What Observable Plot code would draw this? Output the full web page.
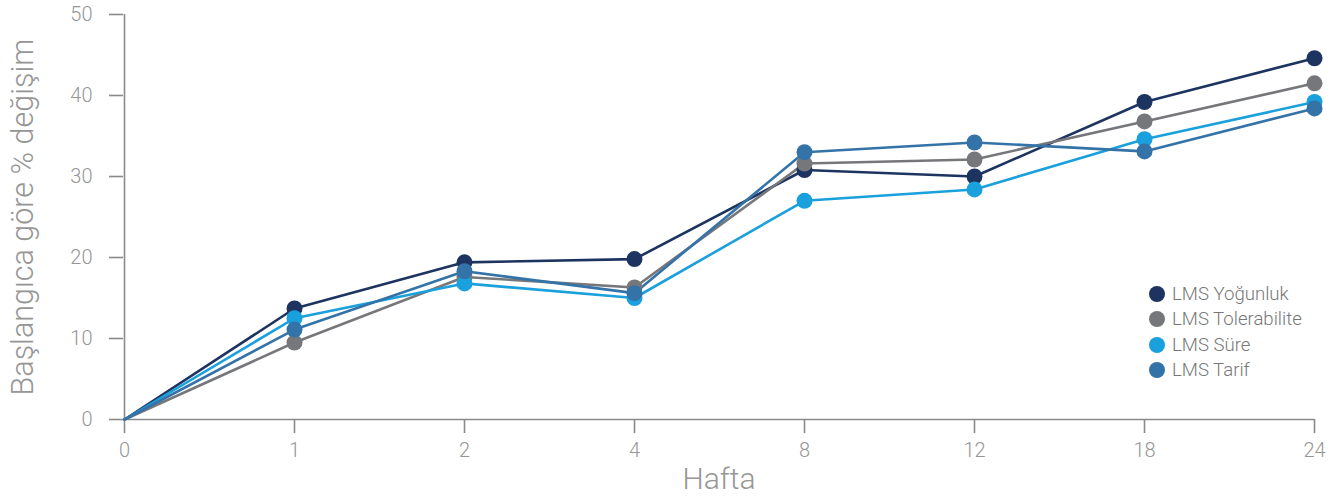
<!DOCTYPE html>
<html>
<head>
<meta charset="utf-8">
<script src="https://cdn.jsdelivr.net/npm/d3@7"></script>
<script src="https://cdn.jsdelivr.net/npm/@observablehq/plot@0.6"></script>
<style>
  html, body { margin: 0; padding: 0; background: #fff; }
  #wrap { position: relative; width: 1341px; height: 498px; font-family: "Roboto", "Liberation Sans", sans-serif; }
  #legend { position: absolute; left: 1149px; top: 281px; font-weight: 300; }
  #legend .item { display: flex; align-items: center; height: 25.5px; font-size: 18.6px; color: #777; }
  #legend .sw { width: 16px; height: 16px; border-radius: 50%; margin-right: 7px; }
</style>
</head>
<body>
<div id="wrap"><div id="legend"></div></div>
<script>
const weeks = ["0", "1", "2", "4", "8", "12", "18", "24"];
const seriesNames = ["LMS Yoğunluk", "LMS Tolerabilite", "LMS Süre", "LMS Tarif"];
const seriesColors = ["#1d3461", "#76777a", "#1aa0dc", "#3473a8"];
const yogunluk     = [0, 13.7, 19.4, 19.8, 30.8, 30.0, 39.2, 44.6];
const tolerabilite = [0,  9.5, 17.6, 16.3, 31.6, 32.1, 36.8, 41.5];
const sure         = [0, 12.5, 16.8, 15.0, 27.0, 28.4, 34.6, 39.2];
const tarif        = [0, 11.1, 18.3, 15.6, 33.0, 34.2, 33.1, 38.4];
const yTicks = [0, 10, 20, 30, 40, 50];
const xTitle = "Hafta";
const yTitle = "Başlangıca göre % değişim";

const allValues = [yogunluk, tolerabilite, sure, tarif];
const data = [];
seriesNames.forEach((s, i) => weeks.forEach((w, j) => data.push({series: s, week: w, value: allValues[i][j]})));

const axisColor = "#8a8a8a";
const textColor = "#969696";

const marks = [
  Plot.ruleY([0], {x1: () => weeks[0], x2: () => weeks[weeks.length - 1], stroke: axisColor, strokeWidth: 1.6}),
  Plot.ruleX([weeks[0]], {y1: 0, y2: 50, stroke: axisColor, strokeWidth: 1.6}),
  Plot.axisY({ticks: yTicks, tickSize: 14, tickPadding: 17, stroke: axisColor, strokeWidth: 1.6, fill: textColor, fontSize: 20,
    label: yTitle, labelAnchor: "center", labelOffset: 112, labelArrow: "none"}),
  Plot.axisX({tickSize: 14, tickPadding: 9, stroke: axisColor, strokeWidth: 1.6, fill: textColor, fontSize: 20,
    label: xTitle, labelAnchor: "center", labelOffset: 69, labelArrow: "none"})
];
seriesNames.forEach((s, i) => {
  const d = data.filter(r => r.series === s);
  marks.push(Plot.line(d, {x: "week", y: "value", stroke: seriesColors[i], strokeWidth: 2.6}));
});
seriesNames.forEach((s, i) => {
  const d = data.filter(r => r.series === s && r.week !== "0");
  marks.push(Plot.dot(d, {x: "week", y: "value", r: 8, fill: seriesColors[i], stroke: "none"}));
});

const chart = Plot.plot({
  width: 1341,
  height: 498,
  marginLeft: 123,
  marginRight: 27,
  marginTop: 14,
  marginBottom: 79,
  style: {fontFamily: "Roboto, 'Liberation Sans', sans-serif", fontWeight: 300, background: "#fff", overflow: "visible"},
  x: {type: "point", domain: weeks, padding: 0},
  y: {domain: [0, 50]},
  marks
});
chart.querySelectorAll("g[aria-label='y-axis label'] text").forEach(t => t.setAttribute("font-size", "30.5"));
chart.querySelectorAll("g[aria-label='x-axis label'] text").forEach(t => t.setAttribute("font-size", "30"));
document.getElementById("wrap").prepend(chart);

const legend = document.getElementById("legend");
seriesNames.forEach((s, i) => {
  const item = document.createElement("div");
  item.className = "item";
  const sw = document.createElement("span");
  sw.className = "sw";
  sw.style.background = seriesColors[i];
  const lb = document.createElement("span");
  lb.textContent = s;
  item.append(sw, lb);
  legend.append(item);
});
</script>
</body>
</html>
